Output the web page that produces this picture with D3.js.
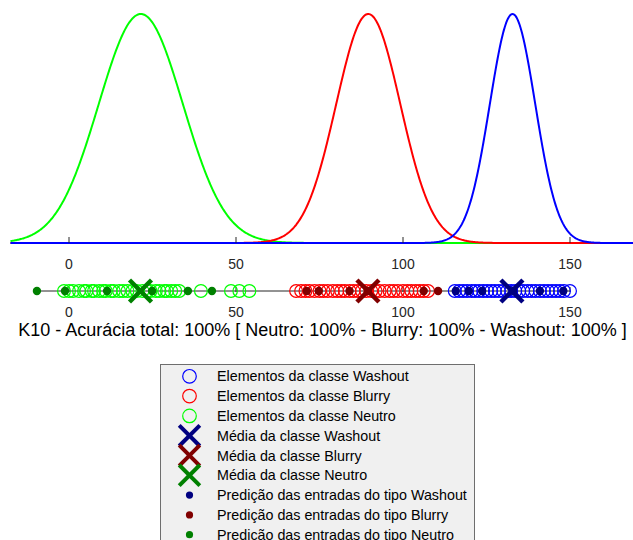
<!DOCTYPE html>
<html>
<head>
<meta charset="utf-8">
<script src="https://cdn.jsdelivr.net/npm/d3@7/dist/d3.min.js"></script>
<style>
  html, body { margin: 0; padding: 0; background: #fff; }
  svg { display: block; font-family: "Liberation Sans", Arial, Helvetica, sans-serif; }
</style>
</head>
<body>
<svg id="chart" width="633" height="540"></svg>
<script>
// ---------------- data ----------------
const xTicks = [0, 50, 100, 150];
const classNames = ["Washout", "Blurry", "Neutro"];
const curveMeans = [132.8, 89.6, 21.5];
const curveSigmas = [6.8, 9.6, 12.6];
const classMeans = [132.6, 89.5, 21.4];

const washoutElements = [115.5, 116.8, 118, 119.2, 120.5, 121.6, 122.8, 124, 125.2, 126.4, 127.5, 128.7, 130, 131.2, 132.4, 133.6, 134.8, 136, 137.3, 138.5, 139.7, 141, 142.2, 143.4, 144.6, 145.8, 147, 148.2, 150];
const blurryElements = [68, 69.5, 70.8, 72, 73.5, 75, 76.2, 77.5, 79, 80.3, 81.5, 82.6, 84, 85.2, 86.5, 87.7, 89, 90.5, 91.8, 93, 94.5, 96, 97.2, 98.5, 100, 101.3, 102.5, 103.8, 105, 106.2, 107.5];
const neutroElements = [-1.5, 0, 1.2, 3, 4.5, 5.2, 6.8, 7.5, 9, 10.2, 11, 12.5, 13.4, 15, 16.2, 17.5, 19, 20.3, 22, 23.5, 24.4, 26, 27.1, 28.5, 29.3, 30.6, 31.8, 33, 39.5, 48.5, 51, 54];

const washoutPredictions = [115.8, 119.7, 123.7, 133, 141, 148];
const blurryPredictions = [71.2, 74.8, 84, 89.5, 106.2, 110.5];
const neutroPredictions = [-9.6, -1.2, 11.4, 24.9, 35.6, 42.8];

const titleText = "K10 - Acurácia total: 100% [ Neutro: 100% - Blurry: 100% - Washout: 100% ]";
const legendLabels = [
  "Elementos da classe Washout",
  "Elementos da classe Blurry",
  "Elementos da classe Neutro",
  "Média da classe Washout",
  "Média da classe Blurry",
  "Média da classe Neutro",
  "Predição das entradas do tipo Washout",
  "Predição das entradas do tipo Blurry",
  "Predição das entradas do tipo Neutro"
];

// ---------------- styles ----------------
const lightColors = ["#0000ff", "#ff0000", "#00ff00"];
const darkColors = ["#000080", "#800000", "#008000"];
const axisColor = "#262626";

const svg = d3.select("#chart");

const x = d3.scaleLinear().domain([0, 150]).range([69, 570]);
const xMin = x.invert(10.5), xMax = x.invert(640);

// ---------------- top plot (gaussians) ----------------
const yTop = d3.scaleLinear().domain([0, 1]).range([243, 14]);
const line = d3.line().x(d => x(d[0])).y(d => yTop(d[1]));

const order = [2, 1, 0]; // green, red, blue
order.forEach(i => {
  const pts = [];
  const n = 800;
  for (let k = 0; k <= n; k++) {
    const v = xMin + (xMax - xMin) * k / n;
    const z = (v - curveMeans[i]) / curveSigmas[i];
    pts.push([v, Math.exp(-0.5 * z * z)]);
  }
  svg.append("path")
    .attr("d", line(pts))
    .attr("fill", "none")
    .attr("stroke", lightColors[i])
    .attr("stroke-width", 2);
});

const topAxis = svg.append("g");
topAxis.selectAll("line").data(xTicks).join("line")
  .attr("x1", d => x(d)).attr("x2", d => x(d))
  .attr("y1", 243).attr("y2", 237)
  .attr("stroke", axisColor).attr("stroke-width", 1);
topAxis.selectAll("text").data(xTicks).join("text")
  .attr("x", d => x(d)).attr("y", 269)
  .attr("text-anchor", "middle")
  .attr("font-size", "14px")
  .attr("fill", axisColor)
  .text(d => d);

// ---------------- strip plot ----------------
const stripY = 291;
const allVals = [].concat(washoutElements, blurryElements, neutroElements, washoutPredictions, blurryPredictions, neutroPredictions);
svg.append("line")
  .attr("x1", x(d3.min(allVals))).attr("x2", x(d3.max(allVals)))
  .attr("y1", stripY).attr("y2", stripY)
  .attr("stroke", axisColor).attr("stroke-width", 1);
const stripAxis = svg.append("g");
stripAxis.selectAll("line").data(xTicks).join("line")
  .attr("x1", d => x(d)).attr("x2", d => x(d))
  .attr("y1", stripY - 4).attr("y2", stripY + 1)
  .attr("stroke", axisColor).attr("stroke-width", 1);
stripAxis.selectAll("text").data(xTicks).join("text")
  .attr("x", d => x(d)).attr("y", 317)
  .attr("text-anchor", "middle")
  .attr("font-size", "14px")
  .attr("fill", axisColor)
  .text(d => d);

const elementSets = [washoutElements, blurryElements, neutroElements];
const predictionSets = [washoutPredictions, blurryPredictions, neutroPredictions];

elementSets.forEach((set, i) => {
  svg.append("g").selectAll("circle").data(set).join("circle")
    .attr("cx", d => x(d)).attr("cy", stripY).attr("r", 6.4)
    .attr("fill", "none").attr("stroke", lightColors[i]).attr("stroke-width", 1.2);
});

function drawX(g, cx, cy, h, color, w) {
  g.append("line").attr("x1", cx - h).attr("y1", cy - h).attr("x2", cx + h).attr("y2", cy + h)
    .attr("stroke", color).attr("stroke-width", w);
  g.append("line").attr("x1", cx - h).attr("y1", cy + h).attr("x2", cx + h).attr("y2", cy - h)
    .attr("stroke", color).attr("stroke-width", w);
}

predictionSets.forEach((set, i) => {
  svg.append("g").selectAll("circle").data(set).join("circle")
    .attr("cx", d => x(d)).attr("cy", stripY).attr("r", 4.2)
    .attr("fill", darkColors[i]);
});

const meansG = svg.append("g");
classMeans.forEach((m, i) => drawX(meansG, x(m), stripY, 11, darkColors[i], 4.5));

// ---------------- title ----------------
svg.append("text")
  .attr("x", 322.5).attr("y", 335.5)
  .attr("text-anchor", "middle")
  .attr("font-size", "18px")
  .attr("fill", "#000")
  .text(titleText);

// ---------------- legend ----------------
const lg = svg.append("g");
lg.append("rect")
  .attr("x", 160.5).attr("y", 364.5).attr("width", 314).attr("height", 190)
  .attr("fill", "#f0f0f0").attr("stroke", "#6e6e6e").attr("stroke-width", 1);

const rowY = i => 376.3 + i * 19.8;
const symX = 189.5;
legendLabels.forEach((lab, i) => {
  const cy = rowY(i);
  if (i < 3) {
    lg.append("circle").attr("cx", symX).attr("cy", cy).attr("r", 6.8)
      .attr("fill", "none").attr("stroke", lightColors[i]).attr("stroke-width", 1.2);
  } else if (i < 6) {
    drawX(lg, symX, cy, 10.3, darkColors[i - 3], 4);
  } else {
    lg.append("circle").attr("cx", symX).attr("cy", cy).attr("r", 3.6)
      .attr("fill", darkColors[i - 6]);
  }
  lg.append("text")
    .attr("x", 217).attr("y", cy + 5)
    .attr("font-size", "14.3px")
    .attr("fill", "#000")
    .text(lab);
});
</script>
</body>
</html>
